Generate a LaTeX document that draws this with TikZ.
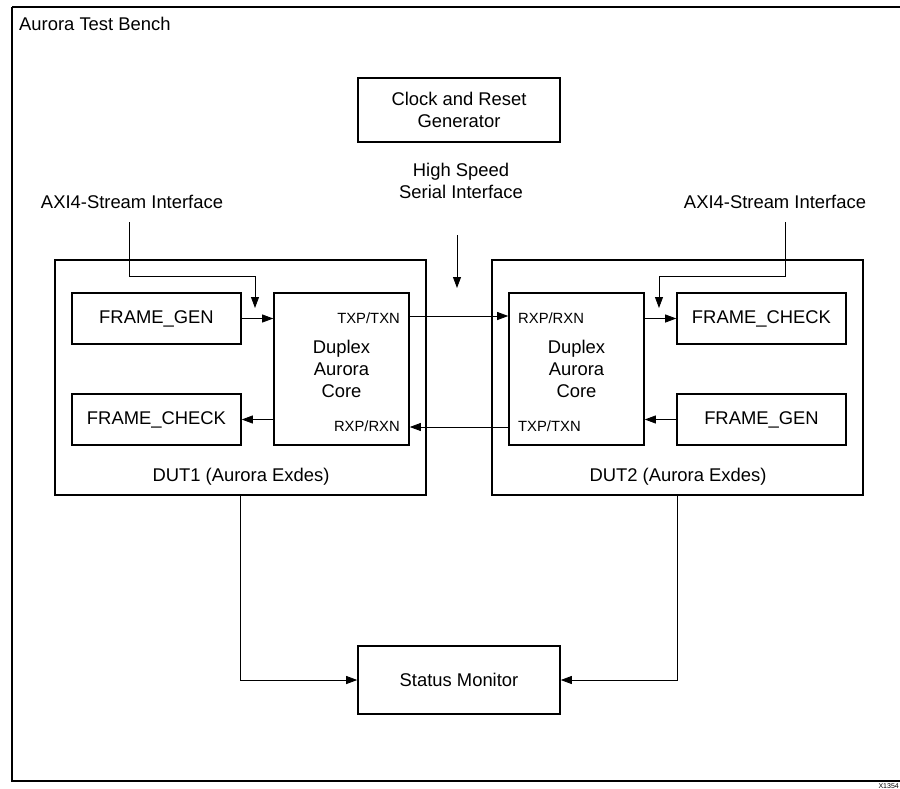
\documentclass[tikz,border=0pt]{standalone}
\usepackage{fontspec}
\setmainfont{Liberation Sans}
\usetikzlibrary{arrows.meta}
\begin{document}
\begin{tikzpicture}[x=1pt,y=-1pt,
  box/.style={draw=black,line width=1.6pt,inner sep=0pt,align=center,font=\fontsize{18.4}{22}\selectfont},
  lbl/.style={inner sep=0pt,align=center,font=\fontsize{18.4}{22}\selectfont},
  pin/.style={inner sep=0pt,font=\fontsize{14.8}{17}\selectfont},
  arr/.style={line width=0.8pt,-{Triangle[length=11pt,width=8pt]}},
  ln/.style={line width=0.8pt}]
\useasboundingbox (0,0) rectangle (900,789);
% outer frame
\draw[line width=1.8pt] (12,7) -- (12,781) -- (905,781);
\draw[line width=1.8pt] (12,7) -- (905,7);
\node[lbl,anchor=base west] (title) at (19,31) {Aurora Test Bench};
\node[inner sep=0pt,anchor=south east,font=\fontsize{7}{8}\selectfont] (fig) at (899,788.5) {X1354};
% clock
\node[box,minimum width=202pt,minimum height=64pt] (clk) at (459,110) {Clock and Reset\\Generator};
% DUT1
\node[box,minimum width=371pt,minimum height=235pt] (dut1) at (240.5,377.5) {};
\node[lbl,anchor=base] (dut1l) at (241,481) {DUT1 (Aurora Exdes)};
\node[box,minimum width=169pt,minimum height=51pt] (fg1) at (156.5,318.5) {FRAME\_GEN};
\node[box,minimum width=169pt,minimum height=51pt] (fc1) at (156.5,419.5) {FRAME\_CHECK};
\node[box,minimum width=135pt,minimum height=152pt] (core1) at (341.5,369) {Duplex\\Aurora\\Core};
\node[pin,anchor=base east] (tx1) at (400,323) {TXP/TXN};
\node[pin,anchor=base east] (rx1) at (400,431) {RXP/RXN};
% DUT2
\node[box,minimum width=371pt,minimum height=235pt] (dut2) at (677.5,377.5) {};
\node[lbl,anchor=base] (dut2l) at (678,481) {DUT2 (Aurora Exdes)};
\node[box,minimum width=135pt,minimum height=152pt] (core2) at (576.5,369) {Duplex\\Aurora\\Core};
\node[box,minimum width=169pt,minimum height=51pt] (fc2) at (761.5,318.5) {FRAME\_CHECK};
\node[box,minimum width=169pt,minimum height=51pt] (fg2) at (761.5,419.5) {FRAME\_GEN};
\node[pin,anchor=base west] (rx2) at (518,323) {RXP/RXN};
\node[pin,anchor=base west] (tx2) at (518,431) {TXP/TXN};
% status
\node[box,minimum width=202pt,minimum height=68pt] (stat) at (459,680) {Status Monitor};
% labels
\node[lbl,anchor=base] (axl) at (132,208) {AXI4-Stream Interface};
\node[lbl,anchor=base] (axr) at (775,208) {AXI4-Stream Interface};
\node[lbl,anchor=base] (hs) at (461,198) {High Speed\\Serial Interface};
% coordinates
\coordinate (a1s) at (129,222);
\coordinate (a1e) at (255,308);
\coordinate (a2s) at (785,222);
\coordinate (a2e) at (659,308);
\coordinate (hss) at (457,235);
\coordinate (hse) at (457,288);
\coordinate (txy) at (0,316);
\coordinate (rxy) at (0,427);
% connectors
\draw[arr] (a1s) -- ++(0,54) -| (a1e);
\draw[arr] (a2s) -- ++(0,54) -| (a2e);
\draw[arr] (hss) -- (hse);
\draw[arr] (fg1.east) -- (core1.west |- fg1.east);
\draw[arr] (core1.west |- fc1.east) -- (fc1.east);
\draw[arr] (core1.east |- txy) -- (core2.west |- txy);
\draw[arr] (core2.west |- rxy) -- (core1.east |- rxy);
\draw[arr] (core2.east |- fc2.west) -- (fc2.west);
\draw[arr] (fg2.west) -- (core2.east |- fg2.west);
\draw[arr] (dut1.south) |- (stat.west);
\draw[arr] (dut2.south) |- (stat.east);
\end{tikzpicture}
\end{document}
